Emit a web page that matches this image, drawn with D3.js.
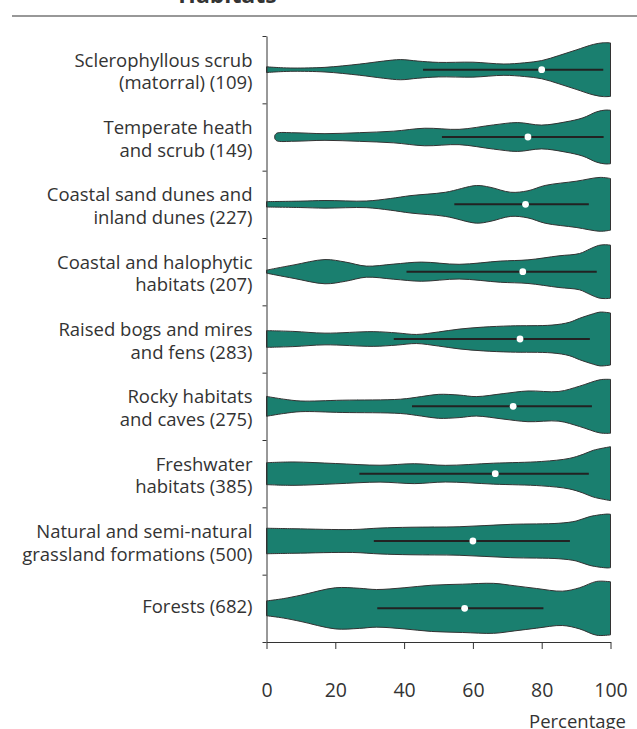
<!DOCTYPE html>
<html>
<head>
<meta charset="utf-8">
<script src="https://cdn.jsdelivr.net/npm/d3@7"></script>
<style>
  body { margin: 0; background: #fff; }
  text { font-family: "Open Sans", "Noto Sans", sans-serif; fill: #333; }
</style>
</head>
<body>
<div id="chart"></div>
<script>
// habitat categories, two-line labels
const labels = [
  ["Sclerophyllous scrub", "(matorral) (109)"],
  ["Temperate heath", "and scrub (149)"],
  ["Coastal sand dunes and", "inland dunes (227)"],
  ["Coastal and halophytic", "habitats (207)"],
  ["Raised bogs and mires", "and fens (283)"],
  ["Rocky habitats", "and caves (275)"],
  ["Freshwater", "habitats (385)"],
  ["Natural and semi-natural", "grassland formations (500)"],
  ["Forests (682)"]
];

// density profiles: [percentage, relative density]
const densities = [
  [[0,2.8],[4,2],[8,1.6],[17,2.3],[27,5.5],[34,8.5],[39,10],[44,8.5],[50,7.2],[60,7.4],[69,5.6],[75,6.8],[80,9],[85,14],[90,19.5],[95,25],[98,26.7],[100,26.5]],
  [[2.4,1.5],[3,3.8],[8,4.2],[17,3.3],[27,4.3],[37,5.8],[46,8.7],[56,7.6],[66,12],[73,14.3],[80,11.8],[87,15],[92,19],[96,25],[98.5,26.7],[100,26.5]],
  [[0,2.7],[10,3.2],[17,3.8],[29,3.3],[36,5.8],[42,8.7],[52,12],[61,18.7],[65,17],[71,12],[76,13.5],[81,18.8],[90,23],[97,26.8],[100,25.7]],
  [[0,1.5],[3,3.5],[8,6.7],[17,12],[23,9.5],[29,5.5],[37,7.5],[45,9.5],[56,7.3],[68,10.5],[76,11.7],[85,15.7],[91,18],[94,22.5],[96.5,26],[98.5,26.7],[100,26.3]],
  [[0,8.3],[8,7.5],[17,5.8],[31,7.3],[38,6],[43.6,4.5],[50,7],[56,9.8],[63,11.8],[71,13],[83,13.8],[88,16.5],[91,20.5],[95,25],[97,26.7],[100,25.8]],
  [[0,9.7],[5,7],[10,5.2],[22,6],[39,7],[45,9.5],[50,11.7],[56,11],[61,9.5],[69,12.5],[76,15],[85,14.5],[91,19.7],[97,26],[100,26.3]],
  [[0,10.8],[8,11.5],[20,10],[33,8.3],[43,9.8],[52,8.2],[66,10.3],[80,12],[88,15],[92,19],[95,23],[100,26.5]],
  [[0,12.8],[8,12.3],[25,11.5],[33,13],[42,13.8],[56,14.3],[71,16.7],[85,17.8],[90,20],[94,24.5],[99,27],[100,26.8]],
  [[0,7.2],[5,9.5],[10,12.8],[20,20],[27,19.5],[32,18.3],[40,20],[48,22.5],[57,23.5],[66,24.3],[72,22],[78.5,19.3],[86,16.7],[91,20],[96,26.2],[100,25.8]]
];

// whisker ends and median dot
const lows    = [45.5, 51, 54.6, 40.7, 37, 42.3, 27, 31.2, 32.2];
const highs   = [97.9, 98, 93.7, 96, 94, 94.6, 93.7, 88.2, 80.5];
const medians = [80, 76, 75.3, 74.5, 73.7, 71.7, 66.5, 60, 57.6];

const xTicks = [0, 20, 40, 60, 80, 100];

let width = 637;
let height = 729;
let margin = { top: 36, right: 26.5, bottom: 87, left: 266.5 };

let color = {
  fill: '#1a7f6f',
  stroke: '#333',
  line: '#222'
};

const data = labels.map((l, i) => ({
  key: i,
  label: l,
  dens: densities[i],
  lo: lows[i],
  hi: highs[i],
  med: medians[i]
}));

const svg = d3.select("#chart").append("svg")
  .attr("width", width)
  .attr("height", height);

let x = d3.scaleLinear()
  .domain([0, 100])
  .range([margin.left, width - margin.right]);

let y = d3.scaleBand()
  .domain(data.map(d => d.key))
  .range([margin.top, height - margin.bottom])
  .padding(0);

let yEdge = d3.scaleLinear()
  .domain([0, data.length])
  .range([margin.top, height - margin.bottom]);

// title (cut off at top) and rule
svg.append("text")
  .attr("x", 227.5)
  .attr("y", 3)
  .attr("text-anchor", "middle")
  .attr("font-size", 23)
  .attr("font-weight", "bold")
  .text("Habitats");

svg.append("line")
  .attr("x1", 12).attr("x2", width)
  .attr("y1", 16).attr("y2", 16)
  .attr("stroke", "#333")
  .attr("stroke-width", 1.2);

// violins
const halfMax = y.bandwidth() * 0.4;

const violins = svg.append("g")
  .selectAll("g")
  .data(data)
  .enter().append("g");

violins.append("path")
  .attr("fill", color.fill)
  .attr("stroke", color.stroke)
  .attr("stroke-width", 1)
  .attr("stroke-linejoin", "round")
  .attr("d", d => {
    const yc = y(d.key) + y.bandwidth() / 2;
    const w = d3.scaleLinear()
      .domain([0, d3.max(d.dens, p => p[1])])
      .range([0, halfMax]);
    return d3.area()
      .x(p => x(p[0]))
      .y0(p => yc - w(p[1]))
      .y1(p => yc + w(p[1]))
      .curve(d3.curveCatmullRom.alpha(0.5))(d.dens);
  });

violins.append("line")
  .attr("x1", d => x(d.lo))
  .attr("x2", d => x(d.hi))
  .attr("y1", d => y(d.key) + y.bandwidth() / 2)
  .attr("y2", d => y(d.key) + y.bandwidth() / 2)
  .attr("stroke", color.line)
  .attr("stroke-width", 2);

violins.append("circle")
  .attr("cx", d => x(d.med))
  .attr("cy", d => y(d.key) + y.bandwidth() / 2)
  .attr("r", 3.4)
  .attr("fill", "#fff");

// category labels
const lab = svg.append("g")
  .selectAll("text")
  .data(data)
  .enter().append("text")
  .attr("text-anchor", "end")
  .attr("font-size", 18.5)
  .attr("y", d => y(d.key) + y.bandwidth() / 2 + (d.label.length > 1 ? -3 : 4.4));

lab.selectAll("tspan")
  .data(d => d.label)
  .enter().append("tspan")
  .attr("x", 252.5)
  .attr("dy", (t, i) => i === 0 ? 0 : 22.6)
  .text(t => t);

// y axis: ticks at band edges
svg.append("g")
  .attr("transform", `translate(${margin.left},0)`)
  .call(d3.axisLeft(yEdge)
    .tickValues(d3.range(0, data.length + 1))
    .tickFormat("")
    .tickSize(4)
    .tickSizeOuter(0))
  .call(g => g.selectAll("path, line").attr("stroke", "#333"));

// x axis
const gx = svg.append("g")
  .attr("transform", `translate(0,${height - margin.bottom})`)
  .call(d3.axisBottom(x)
    .tickValues(xTicks)
    .tickSize(7)
    .tickPadding(34)
    .tickSizeOuter(0));

gx.selectAll("path, line").attr("stroke", "#333");
gx.selectAll("text")
  .attr("font-size", 19.5)
  .attr("font-family", '"Open Sans", sans-serif')
  .attr("fill", "#333");

svg.append("text")
  .attr("x", 626)
  .attr("y", 728)
  .attr("text-anchor", "end")
  .attr("font-size", 18.5)
  .text("Percentage");
</script>
</body>
</html>
